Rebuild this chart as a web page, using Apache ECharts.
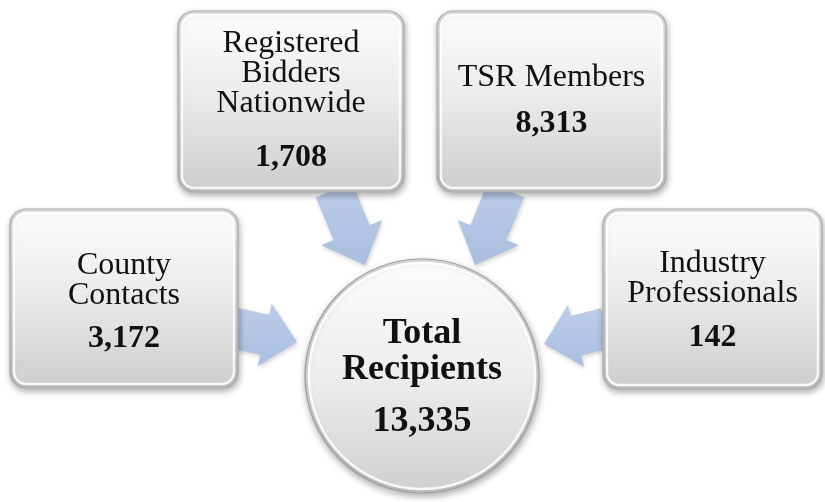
<!DOCTYPE html>
<html>
<head>
<meta charset="utf-8">
<script src="https://cdn.jsdelivr.net/npm/echarts@6/dist/echarts.min.js"></script>
<style>html,body{margin:0;padding:0;background:#fff}#c{width:825px;height:502px}</style>
</head>
<body>
<div id="c"></div>
<script>
// ---- data ----
const sourceNames = ['Registered\nBidders\nNationwide', 'TSR Members', 'County\nContacts', 'Industry\nProfessionals'];
const sourceCounts = [1708, 8313, 3172, 142];
const totalName = 'Total\nRecipients';
const totalCount = 13335;

// ---- layout (positions/styles only) ----
const boxRects = [[178, 11, 226, 181], [437, 11, 229, 181], [10, 209, 228, 179], [603, 209, 219, 180]];
const nameBaselines = [53, 87, 275, 273];
const countBaselines = [167, 133, 348, 347];
const nameLineGap = 30;
const arrows = [ // start, tip, shaft width, head width, head length
  [[334, 190], [365, 265], 39, 66, 35],
  [[506, 190], [475, 265], 39, 66, 35],
  [[234, 328], [297, 342], 41, 64, 33],
  [[606, 328], [544, 344], 41, 64, 33]
];
const circle = {cx: 422, cy: 376, r: 117};
const FONT = '"Liberation Serif", "DejaVu Serif", serif';
const FS = 32;

function fmt(v) { return v.toLocaleString('en-US'); }

function arrowPoints(a) {
  const [s, t, sw, hw, hl] = a;
  const dx = t[0] - s[0], dy = t[1] - s[1];
  const L = Math.hypot(dx, dy);
  const ux = dx / L, uy = dy / L, px = -uy, py = ux;
  const p = (along, perp) => [s[0] + ux * along + px * perp, s[1] + uy * along + py * perp];
  const b = L - hl;
  return [p(0, -sw / 2), p(b, -sw / 2), p(b, -hw / 2), p(L, 0), p(b, hw / 2), p(b, sw / 2), p(0, sw / 2)];
}

const g = [];
arrows.forEach(a => {
  g.push({
    type: 'polygon', shape: {points: arrowPoints(a)},
    style: {
      fill: {type: 'linear', x: 0, y: 0, x2: 0, y2: 1, colorStops: [{offset: 0, color: '#bccde9'}, {offset: 1, color: '#a9bedf'}]},
      shadowBlur: 4, shadowColor: 'rgba(0,0,0,0.18)', shadowOffsetX: 1, shadowOffsetY: 2
    }
  });
});

function boxFill() {
  return {type: 'linear', x: 0, y: 0, x2: 0, y2: 1, colorStops: [
    {offset: 0, color: '#fdfdfd'}, {offset: 0.45, color: '#ececec'}, {offset: 1, color: '#cdcdcd'}]};
}

boxRects.forEach((r, i) => {
  const [x, y, w, h] = r;
  g.push({
    type: 'rect', shape: {x: x, y: y, width: w, height: h, r: 16},
    style: {fill: boxFill(), stroke: '#a9a9a9', lineWidth: 1.2,
      shadowBlur: 6, shadowColor: 'rgba(0,0,0,0.30)', shadowOffsetX: 1, shadowOffsetY: 3}
  });
  // bevel highlight
  g.push({
    type: 'rect', shape: {x: x + 4, y: y + 4, width: w - 8, height: h - 8, r: 12},
    style: {fill: 'none', stroke: 'rgba(255,255,255,0.85)', lineWidth: 2.5}
  });
  g.push({
    type: 'rect', shape: {x: x + 1.5, y: y + 1.5, width: w - 3, height: h - 3, r: 15},
    style: {fill: 'none', stroke: 'rgba(150,150,150,0.35)', lineWidth: 2}
  });
  const cx = x + w / 2;
  const lines = sourceNames[i].split('\n');
  lines.forEach((ln, k) => {
    g.push({
      type: 'text', x: cx, y: nameBaselines[i] + k * nameLineGap - FS * 0.305,
      style: {text: ln, fill: '#111', font: 'normal ' + FS + 'px ' + FONT, align: 'center', verticalAlign: 'middle'}
    });
  });
  g.push({
    type: 'text', x: cx, y: countBaselines[i] - FS * 0.305,
    style: {text: fmt(sourceCounts[i]), fill: '#111', font: 'bold ' + FS + 'px ' + FONT, align: 'center', verticalAlign: 'middle'}
  });
});

// central circle
g.push({
  type: 'circle', shape: {cx: circle.cx, cy: circle.cy, r: circle.r},
  style: {
    fill: {type: 'linear', x: 0, y: 0, x2: 0, y2: 1, colorStops: [
      {offset: 0, color: '#fdfdfd'}, {offset: 0.5, color: '#ededed'}, {offset: 1, color: '#cfcfcf'}]},
    stroke: '#9d9d9d', lineWidth: 1.2,
    shadowBlur: 7, shadowColor: 'rgba(0,0,0,0.32)', shadowOffsetX: 1, shadowOffsetY: 3
  }
});
g.push({
  type: 'circle', shape: {cx: circle.cx, cy: circle.cy, r: circle.r - 4},
  style: {fill: 'none', stroke: 'rgba(255,255,255,0.85)', lineWidth: 2.5}
});
g.push({
  type: 'circle', shape: {cx: circle.cx, cy: circle.cy, r: circle.r - 1.5},
  style: {fill: 'none', stroke: 'rgba(150,150,150,0.35)', lineWidth: 2}
});
const CFS = 36;
const circBaselines = [345, 381];
totalName.split('\n').forEach((ln, k) => {
  g.push({
    type: 'text', x: circle.cx, y: circBaselines[k] - CFS * 0.305,
    style: {text: ln, fill: '#111', font: 'bold ' + CFS + 'px ' + FONT, align: 'center', verticalAlign: 'middle'}
  });
});
g.push({
  type: 'text', x: circle.cx, y: 433 - CFS * 0.305,
  style: {text: fmt(totalCount), fill: '#111', font: 'bold ' + CFS + 'px ' + FONT, align: 'center', verticalAlign: 'middle'}
});

const chart = echarts.init(document.getElementById('c'), null, {renderer: 'canvas'});
chart.setOption({backgroundColor: '#ffffff', animation: false, graphic: {elements: g}});
</script>
</body>
</html>
